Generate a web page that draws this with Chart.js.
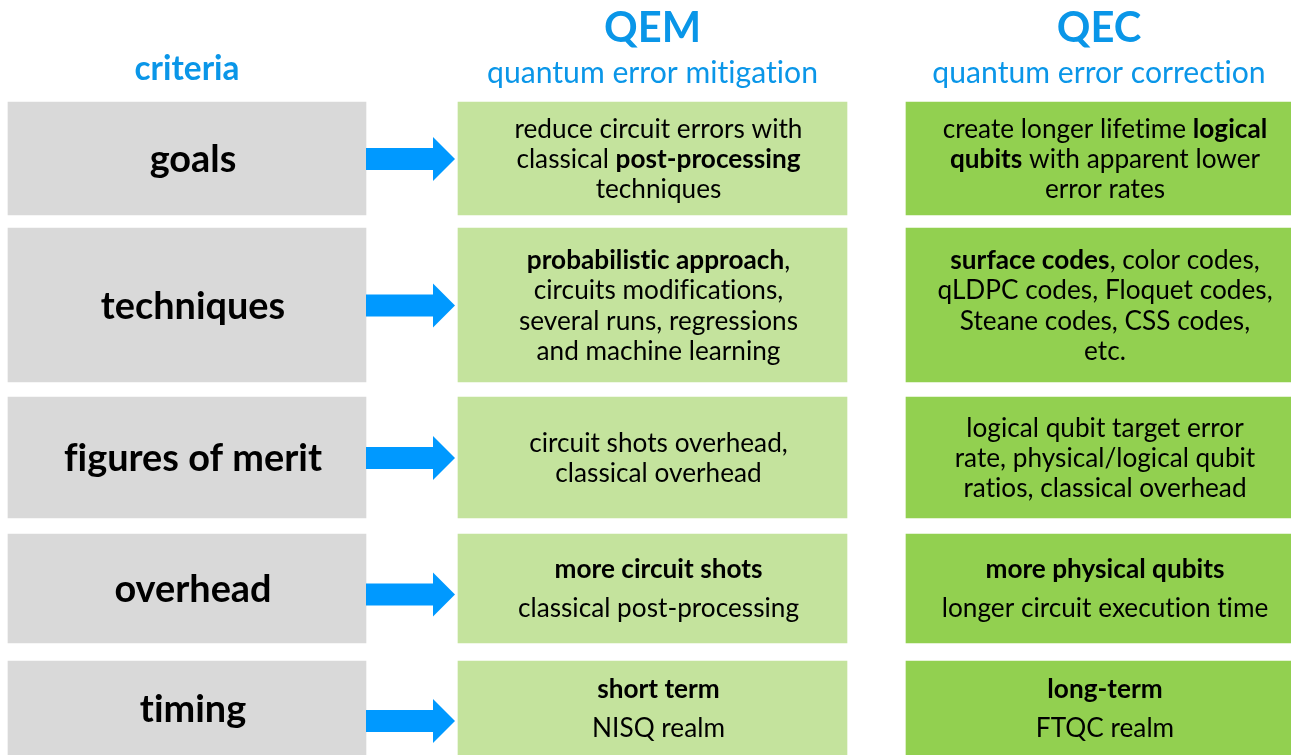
<!DOCTYPE html>
<html>
<head>
<meta charset="utf-8">
<script src="https://cdn.jsdelivr.net/npm/chart.js@4/dist/chart.umd.min.js"></script>
<style>
  html, body { margin: 0; padding: 0; background: #ffffff; }
  #wrap { width: 1291px; height: 755px; position: relative; }
</style>
</head>
<body>
<div id="wrap"><canvas id="c"></canvas></div>
<script>
// ---------- content ----------
const columnTitles = ['criteria', 'QEM', 'QEC'];
const columnSubtitles = ['', 'quantum error mitigation', 'quantum error correction'];
const criteria = ['goals', 'techniques', 'figures of merit', 'overhead', 'timing'];
const qemText = [
  ['reduce circuit errors with', 'classical **post-processing**', 'techniques'],
  ['**probabilistic approach**,', 'circuits modifications,', 'several runs, regressions', 'and machine learning'],
  ['circuit shots overhead,', 'classical overhead'],
  ['**more circuit shots**', 'classical post-processing'],
  ['**short term**', 'NISQ realm']
];
const qecText = [
  ['create longer lifetime **logical**', '**qubits** with apparent lower', 'error rates'],
  ['**surface codes**, color codes,', 'qLDPC codes, Floquet codes,', 'Steane codes, CSS codes,', 'etc.'],
  ['logical qubit target error', 'rate, physical/logical qubit', 'ratios, classical overhead'],
  ['**more physical qubits**', 'longer circuit execution time'],
  ['**long-term**', 'FTQC realm']
];

// ---------- layout (scale units = pixels) ----------
const rowTop    = [102, 228, 397, 534, 661];
const rowBottom = [215, 382, 518, 643, 757];
const rowLineGap = [30, 30.3, 30, 39, 39];
const colLeft  = [8, 458, 906];
const colRight = [366, 847, 1292];
const arrowY = [159, 305.5, 458, 594.5, 721];
const arrowX0 = 366, arrowNeck = 433, arrowTip = 455;
const shaftH = 22, headH = 44;
const textShift = 6;

const colors = ['#d9d9d9', '#c4e39d', '#92d050'];
const arrowColor = '#0099ff';
const titleColor = '#0a96e8';
const FONT = 'Lato, "Noto Sans", sans-serif';

// ---------- datasets: one per row, three cells each ----------
const datasets = criteria.map((name, r) => ({
  label: name,
  data: colLeft.map((l, c) => ({ y: (rowTop[r] + rowBottom[r]) / 2, x: [l, colRight[c]] })),
  backgroundColor: colors,
  borderWidth: 0,
  borderSkipped: false,
  barThickness: rowBottom[r] - rowTop[r],
  grouped: false
}));

function setLS(ctx) { try { ctx.letterSpacing = '0.01px'; } catch (e) {} }

function fitSize(ctx, text, weight, target) {
  ctx.font = weight + ' 100px ' + FONT;
  setLS(ctx);
  return 100 * target / ctx.measureText(text).width;
}

function parseRich(line) {
  const parts = line.split('**');
  return parts.map((t, i) => ({ t, bold: i % 2 === 1 })).filter(p => p.t.length);
}

function drawRich(ctx, line, cx, baseline, size) {
  const segs = parseRich(line);
  let total = 0;
  segs.forEach(s => {
    ctx.font = (s.bold ? 'bold ' : '') + size + 'px ' + FONT;
    s.w = ctx.measureText(s.t).width;
    total += s.w;
  });
  let x = cx - total / 2;
  ctx.textAlign = 'left';
  segs.forEach(s => {
    ctx.font = (s.bold ? 'bold ' : '') + size + 'px ' + FONT;
    ctx.fillText(s.t, x, baseline);
    x += s.w;
  });
}

const overlay = {
  id: 'overlay',
  afterDatasetsDraw(chart) {
    const ctx = chart.ctx;
    const xs = chart.scales.x, ys = chart.scales.y;
    ctx.save();
    setLS(ctx);
    // arrows
    ctx.fillStyle = arrowColor;
    arrowY.forEach(ay => {
      const x0 = xs.getPixelForValue(arrowX0), xn = xs.getPixelForValue(arrowNeck), xt = xs.getPixelForValue(arrowTip);
      const yc = ys.getPixelForValue(ay);
      const s = shaftH / 2, h = headH / 2;
      ctx.beginPath();
      ctx.moveTo(x0, yc - s);
      ctx.lineTo(xn, yc - s);
      ctx.lineTo(xn, yc - h);
      ctx.lineTo(xt, yc);
      ctx.lineTo(xn, yc + h);
      ctx.lineTo(xn, yc + s);
      ctx.lineTo(x0, yc + s);
      ctx.closePath();
      ctx.fill();
    });

    ctx.textBaseline = 'alphabetic';
    // sizes fitted to reference widths
    const bodySize = fitSize(ctx, 'reduce circuit errors with', 'normal', 288);
    const critSize = fitSize(ctx, 'figures of merit', 'bold', 258);
    const subSize = fitSize(ctx, 'quantum error mitigation', 'normal', 331);
    const bigSize = fitSize(ctx, 'QEM', 'bold', 97);
    const critTitleSize = fitSize(ctx, 'criteria', 'bold', 105);

    const colCx = colLeft.map((l, c) => xs.getPixelForValue((l + colRight[c]) / 2));
    // headers
    ctx.fillStyle = titleColor;
    ctx.textAlign = 'center';
    ctx.font = 'bold ' + critTitleSize + 'px ' + FONT;
    ctx.fillText(columnTitles[0], colCx[0], ys.getPixelForValue(80));
    ctx.font = 'bold ' + bigSize + 'px ' + FONT;
    ctx.fillText(columnTitles[1], colCx[1], ys.getPixelForValue(42));
    ctx.fillText(columnTitles[2], colCx[2], ys.getPixelForValue(42));
    ctx.font = subSize + 'px ' + FONT;
    ctx.fillText(columnSubtitles[1], colCx[1], ys.getPixelForValue(83));
    ctx.fillText(columnSubtitles[2], colCx[2], ys.getPixelForValue(83));

    // cells
    ctx.fillStyle = '#000000';
    criteria.forEach((name, r) => {
      const yc = ys.getPixelForValue((rowTop[r] + Math.min(rowBottom[r], 755)) / 2);
      ctx.textAlign = 'center';
      ctx.font = 'bold ' + critSize + 'px ' + FONT;
      ctx.fillText(name, colCx[0] + textShift, yc + critSize * 0.36);
      [qemText[r], qecText[r]].forEach((lines, k) => {
        const n = lines.length, gap = rowLineGap[r];
        lines.forEach((ln, i) => {
          const ly = yc + (i - (n - 1) / 2) * gap;
          drawRich(ctx, ln, colCx[k + 1] + textShift, ly + bodySize * 0.36, bodySize);
        });
      });
    });
    ctx.restore();
  }
};

new Chart(document.getElementById('c'), {
  type: 'bar',
  data: { datasets },
  options: {
    indexAxis: 'y',
    responsive: true,
    maintainAspectRatio: false,
    animation: false,
    events: [],
    layout: { padding: 0 },
    plugins: { legend: { display: false }, tooltip: { enabled: false } },
    scales: {
      x: { type: 'linear', min: 0, max: 1291, display: false, offset: false },
      y: { type: 'linear', min: 0, max: 755, reverse: true, display: false, offset: false }
    }
  },
  plugins: [overlay]
});
</script>
</body>
</html>
